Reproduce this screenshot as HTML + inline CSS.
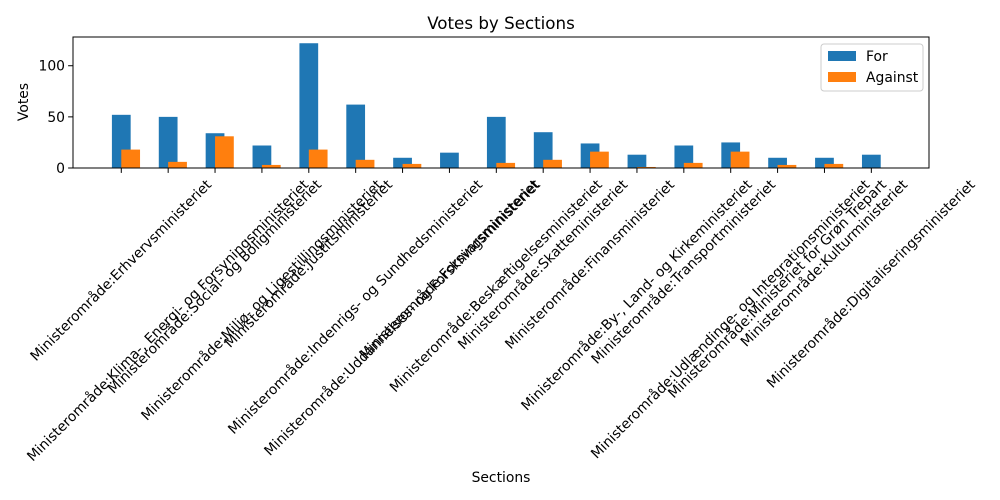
<!DOCTYPE html>
<html><head><meta charset="utf-8">
<style>
html,body{margin:0;padding:0;background:#fff;}
svg{display:block;font-family:"DejaVu Sans","Liberation Sans",sans-serif;}
</style></head>
<body>
<svg id="chart" width="1000" height="500" viewBox="0 0 1000 500" xmlns="http://www.w3.org/2000/svg">
<rect width="1000" height="500" fill="#fff"/>
<text x="501" y="29" font-size="16.7" text-anchor="middle" fill="#000">Votes by Sections</text>
<text transform="translate(28,102) rotate(-90)" font-size="13.9" text-anchor="middle" fill="#000">Votes</text>
<text x="501" y="482" font-size="13.9" text-anchor="middle" fill="#000">Sections</text>
<g id="bars"></g>
<g id="yticks"></g>
<g id="xticks"></g>
<rect x="73" y="37" width="856" height="131" fill="none" stroke="#000" stroke-width="1"/>
<g>
<rect x="821" y="44" width="102" height="47" rx="3" fill="#fff" fill-opacity="0.8" stroke="#ccc"/>
<rect x="828" y="51" width="28" height="10" fill="#1f77b4"/>
<text x="866" y="61" font-size="13.9" fill="#000">For</text>
<rect x="828" y="72" width="28" height="10" fill="#ff7f0e"/>
<text x="866" y="82" font-size="13.9" fill="#000">Against</text>
</g>
</svg>
<script>
const categories = ["Ministerområde:Erhvervsministeriet","Ministerområde:Klima-, Energi- og Forsyningsministeriet","Ministerområde:Social- og Boligministeriet","Ministerområde:Miljø- og Ligestillingsministeriet","Ministerområde:Justitsministeriet","Ministerområde:Indenrigs- og Sundhedsministeriet","Ministerområde:Uddannelses- og Forskningsministeriet","Ministerområde:Forsvarsministeriet","Ministerområde:Beskæftigelsesministeriet","Ministerområde:Skatteministeriet","Ministerområde:Finansministeriet","Ministerområde:By-, Land- og Kirkeministeriet","Ministerområde:Transportministeriet","Ministerområde:Udlændinge- og Integrationsministeriet","Ministerområde:Ministeriet for Grøn Trepart","Ministerområde:Kulturministeriet","Ministerområde:Digitaliseringsministeriet"];
const forVotes = [52,50,34,22,122,62,10,15,50,35,24,13,22,25,10,10,13];
const againstVotes = [18,6,31,3,18,8,4,0,5,8,16,1,5,16,3,4,0];
const yTicks = [0,50,100];

const NS="http://www.w3.org/2000/svg";
const L=73,R=929,T=37,B=168;
const barW=0.4;
const n=categories.length;
const ymax=Math.max(...forVotes,...againstVotes)*1.05;
const xmin=-barW/2, xmaxD=(n-1)+0.2+barW/2, pad=(xmaxD-xmin)*0.05;
const x0=xmin-pad, x1=xmaxD+pad;
const xs=v=>L+(v-x0)/(x1-x0)*(R-L);
const ys=v=>B-v/ymax*(B-T);

const bars=document.getElementById('bars');
function bar(cx,val,color,name){
  const r=document.createElementNS(NS,'rect');
  
  
  const xl=xs(cx-barW/2), xr=xs(cx+barW/2);
  r.setAttribute('x',xl);r.setAttribute('width',xr-xl);
  r.setAttribute('y',ys(val));r.setAttribute('height',B-ys(val));
  r.setAttribute('fill',color);bars.appendChild(r);
}
for(let i=0;i<n;i++){
  bar(i,forVotes[i],'#1f77b4','bar-for-'+i);
}
for(let i=0;i<n;i++){
  bar(i+0.2,againstVotes[i],'#ff7f0e','bar-against-'+i);
}
const yt=document.getElementById('yticks');
yTicks.forEach(v=>{
  const y=ys(v);
  const l=document.createElementNS(NS,'line');
  
  
  l.setAttribute('x1',L-4.9);l.setAttribute('x2',L);l.setAttribute('y1',y);l.setAttribute('y2',y);
  l.setAttribute('stroke','#000');yt.appendChild(l);
  const t=document.createElementNS(NS,'text');
  
  
  t.setAttribute('x',L-8);t.setAttribute('y',y+5);t.setAttribute('font-size','13.9');
  t.setAttribute('text-anchor','end');t.textContent=v;yt.appendChild(t);
});
const xt=document.getElementById('xticks');
categories.forEach((c,i)=>{
  const x=xs(i);
  const l=document.createElementNS(NS,'line');
  
  
  l.setAttribute('x1',x);l.setAttribute('x2',x);l.setAttribute('y1',B);l.setAttribute('y2',B+4.9);
  l.setAttribute('stroke','#000');xt.appendChild(l);
  const t=document.createElementNS(NS,'text');
  
  
  t.setAttribute('font-size','13.9');t.setAttribute('text-anchor','middle');
  t.setAttribute('dominant-baseline','central');
  t.textContent=c;xt.appendChild(t);
  const len=t.getComputedTextLength();
  const h=(len+14)*Math.SQRT1_2;
  const cy=B+9.7+h/2;
  t.setAttribute('x',x);t.setAttribute('y',cy);
  t.setAttribute('transform','rotate(-45 '+x+' '+cy+')');
});
</script>
</body></html>
